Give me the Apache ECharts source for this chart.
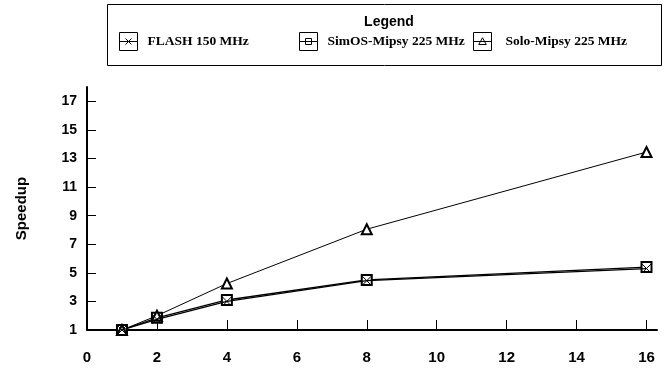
<!DOCTYPE html>
<html>
<head>
<meta charset="utf-8">
<script src="https://cdn.jsdelivr.net/npm/echarts@6/dist/echarts.min.js"></script>
<style>
  html, body { margin: 0; padding: 0; background: #fff; }
  #chart { width: 672px; height: 369px; }
</style>
</head>
<body>
<div id="chart"></div>
<script>
// processors on x, speedup on y
var processors = [1, 2, 4, 8, 16];
var flashSpeedup = [1, 1.75, 3.0, 4.45, 5.3];
var simosSpeedup = [1, 1.85, 3.1, 4.5, 5.4];
var soloSpeedup = [1, 2.0, 4.25, 8.05, 13.45];
var seriesNames = ['FLASH 150 MHz', 'SimOS-Mipsy 225 MHz', 'Solo-Mipsy 225 MHz'];
var xTicks = [0, 2, 4, 6, 8, 10, 12, 14, 16];
var yTicks = [1, 3, 5, 7, 9, 11, 13, 15, 17];

function pairs(ys) {
    var out = [];
    for (var i = 0; i < processors.length; i++) {
        out.push([processors[i], ys[i]]);
    }
    return out;
}

// legend icons: box with line through and the marker
var iconX = 'path://M0,0L24,0L24,24L0,24ZM0,12L24,12M8,8L16,16M16,8L8,16';
var iconRect = 'path://M0,0L24,0L24,24L0,24ZM0,12L24,12M8,8L16,8L16,16L8,16Z';
var iconTri = 'path://M0,0L24,0L24,24L0,24ZM0,12L24,12M12,7L17,16L7,16Z';

var legendText = { fontFamily: 'Liberation Serif', fontWeight: 'bold', fontSize: 13.5, color: '#000' };

function makeLegend(i, icon, left, gap) {
    return {
        top: 25,
        left: left,
        itemWidth: 20,
        itemHeight: 18,
        data: [{ name: seriesNames[i], icon: icon }],
        itemStyle: { color: 'none', borderColor: '#000', borderWidth: 1 },
        lineStyle: { opacity: 0 },
        textStyle: Object.assign({ padding: [0, 0, 0, gap] }, legendText)
    };
}

var myChart = echarts.init(document.getElementById('chart'));

var option = {
    animation: false,
    backgroundColor: '#fff',
    title: {
        text: 'Legend',
        left: 384,
        top: 10,
        textAlign: 'center',
        textStyle: { fontFamily: 'Liberation Sans', fontWeight: 'bold', fontSize: 14, color: '#000' }
    },
    graphic: [{
        type: 'rect',
        shape: { x: 107.5, y: 4.5, width: 554, height: 61 },
        style: { fill: 'none', stroke: '#000', lineWidth: 1 }
    }],
    legend: [
        makeLegend(0, iconX, 112, 4),
        makeLegend(1, iconRect, 292, 4),
        makeLegend(2, iconTri, 466, 8)
    ],
    grid: { left: 87, right: 15, top: 87, bottom: 39 },
    xAxis: {
        type: 'value',
        min: 0,
        max: 16.3,
        axisLine: { lineStyle: { color: '#000', width: 2 } },
        axisTick: { inside: true, length: 10, customValues: xTicks, lineStyle: { color: '#000', width: 1 } },
        axisLabel: { customValues: xTicks, margin: 20, fontFamily: 'Liberation Sans', fontWeight: 'bold', fontSize: 15, color: '#000' },
        splitLine: { show: false }
    },
    yAxis: {
        type: 'value',
        min: 1,
        max: 18,
        name: 'Speedup',
        nameLocation: 'middle',
        nameGap: 58,
        nameRotate: 90,
        nameTextStyle: { fontFamily: 'Liberation Sans', fontWeight: 'bold', fontSize: 15, color: '#000' },
        axisLine: { show: true, lineStyle: { color: '#000', width: 2 } },
        axisTick: { show: true, inside: true, length: 9, customValues: yTicks, lineStyle: { color: '#000', width: 1 } },
        axisLabel: { customValues: yTicks, margin: 10, fontFamily: 'Liberation Sans', fontWeight: 'bold', fontSize: 14, color: '#000' },
        splitLine: { show: false }
    },
    series: [
        {
            name: seriesNames[0],
            type: 'line',
            data: pairs(flashSpeedup),
            symbol: 'path://M0,0L10,10M10,0L0,10',
            symbolSize: 9,
            itemStyle: { color: 'none', borderColor: '#000', borderWidth: 1 },
            lineStyle: { color: '#000', width: 1.3 },
            z: 3
        },
        {
            name: seriesNames[1],
            type: 'line',
            data: pairs(simosSpeedup),
            symbol: 'emptyRect',
            symbolSize: 10,
            itemStyle: { color: '#000', borderWidth: 1 },
            lineStyle: { color: '#000', width: 1.3 },
            z: 2
        },
        {
            name: seriesNames[2],
            type: 'line',
            data: pairs(soloSpeedup),
            symbol: 'emptyTriangle',
            symbolSize: 10,
            itemStyle: { color: '#000', borderWidth: 1 },
            lineStyle: { color: '#000', width: 1 },
            z: 2
        }
    ]
};

myChart.setOption(option);
</script>
</body>
</html>
